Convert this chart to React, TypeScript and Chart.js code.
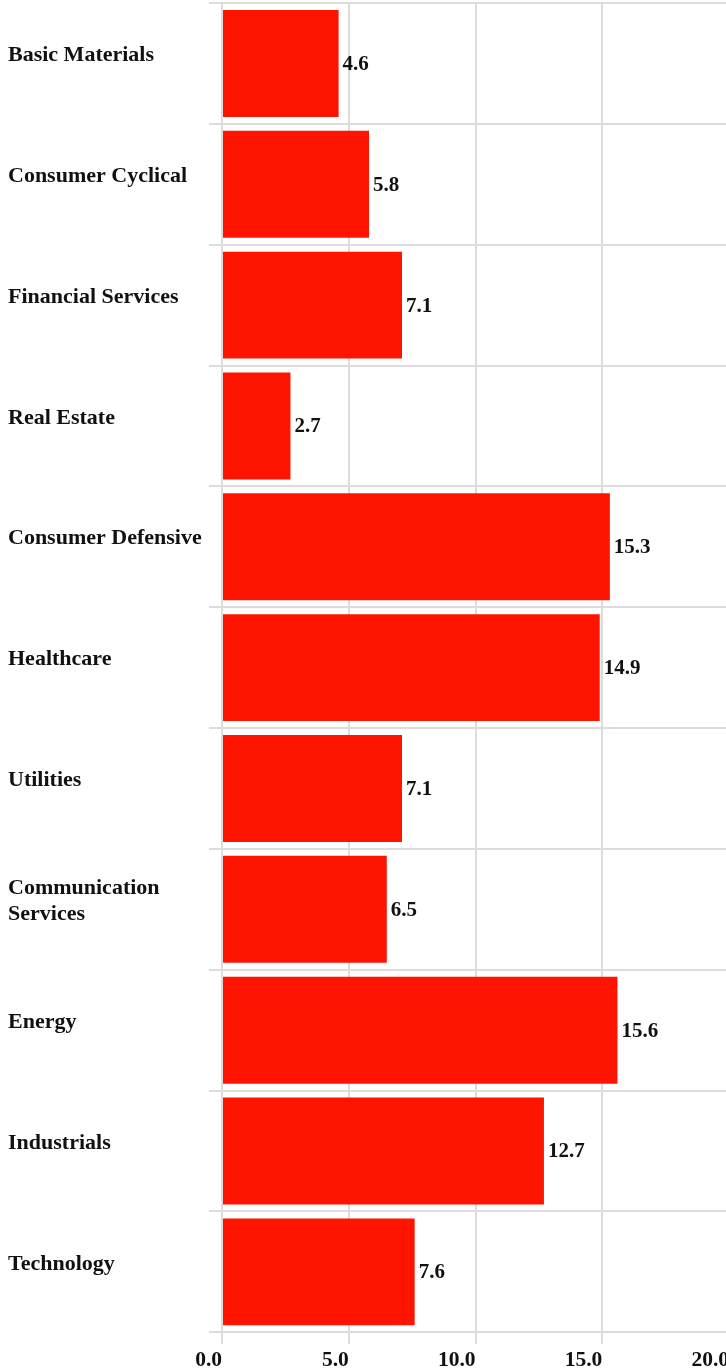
import React, { useEffect, useRef } from "react";
import { Chart, registerables } from "chart.js";

Chart.register(...registerables);

const categories: (string | string[])[] = [
  "Basic Materials",
  "Consumer Cyclical",
  "Financial Services",
  "Real Estate",
  "Consumer Defensive",
  "Healthcare",
  "Utilities",
  ["Communication", "Services"],
  "Energy",
  "Industrials",
  "Technology",
];

const values: number[] = [4.6, 5.8, 7.1, 2.7, 15.3, 14.9, 7.1, 6.5, 15.6, 12.7, 7.6];

const xTicks: number[] = [0, 5, 10, 15, 20];

const FONT = "'Liberation Serif', 'Times New Roman', serif";
const GRID = "#dcdcdc";
const TEXT = "#111";

const valueLabels = {
  id: "valueLabels",
  afterDatasetsDraw(chart: any) {
    const ctx = chart.ctx;
    const meta = chart.getDatasetMeta(0);
    ctx.save();
    ctx.font = `bold 21px ${FONT}`;
    ctx.fillStyle = TEXT;
    ctx.textAlign = "left";
    ctx.textBaseline = "middle";
    meta.data.forEach((bar: any, i: number) => {
      const v = chart.data.datasets[0].data[i] as number;
      ctx.fillText(v.toFixed(1), bar.x + 4, bar.y + 1);
    });
    ctx.restore();
  },
};

export default function App() {
  const ref = useRef<HTMLCanvasElement | null>(null);

  useEffect(() => {
    if (!ref.current) return;
    const chart = new Chart(ref.current, {
      type: "bar",
      data: {
        labels: categories,
        datasets: [
          {
            data: values,
            backgroundColor: "rgb(255,20,0)",
            borderWidth: 0,
            barPercentage: 0.885,
            categoryPercentage: 1,
          },
        ],
      },
      options: {
        indexAxis: "y",
        animation: false,
        responsive: false,
        maintainAspectRatio: false,
        layout: { padding: { left: 8, top: 3, right: 3, bottom: 0 } },
        plugins: {
          legend: { display: false },
          tooltip: { enabled: false },
        },
        scales: {
          x: {
            min: xTicks[0],
            max: xTicks[xTicks.length - 1],
            afterBuildTicks: (scale: any) => {
              scale.ticks = xTicks.map((v) => ({ value: v }));
            },
            grid: { color: GRID, lineWidth: 2, tickLength: 12, drawTicks: true },
            border: { display: true, color: GRID, width: 2 },
            ticks: {
              align: "end",
              padding: 4,
              color: TEXT,
              font: { family: FONT, size: 21.5, weight: "bold", lineHeight: 1.15 },
              callback: (v: any) => Number(v).toFixed(1),
            },
          },
          y: {
            grid: { color: GRID, lineWidth: 2, tickLength: 13, drawTicks: true, offset: true },
            border: { display: true, color: GRID, width: 2, z: 1 },
            afterFit: (scale: any) => {
              scale.width = 214;
              scale.paddingTop = 0;
              scale.paddingBottom = 0;
            },
            ticks: {
              crossAlign: "far",
              labelOffset: -8,
              padding: 9,
              color: TEXT,
              font: { family: FONT, size: 22, weight: "bold", lineHeight: 1.15 },
            },
          },
        },
      },
      plugins: [valueLabels],
    });
    return () => chart.destroy();
  }, []);

  return (
    <div
      style={{
        position: "absolute",
        left: 0,
        top: 0,
        width: 726,
        height: 1368,
        overflow: "hidden",
        background: "#fff",
      }}
    >
      <canvas ref={ref} width={733} height={1377} style={{ display: "block" }} />
    </div>
  );
}
